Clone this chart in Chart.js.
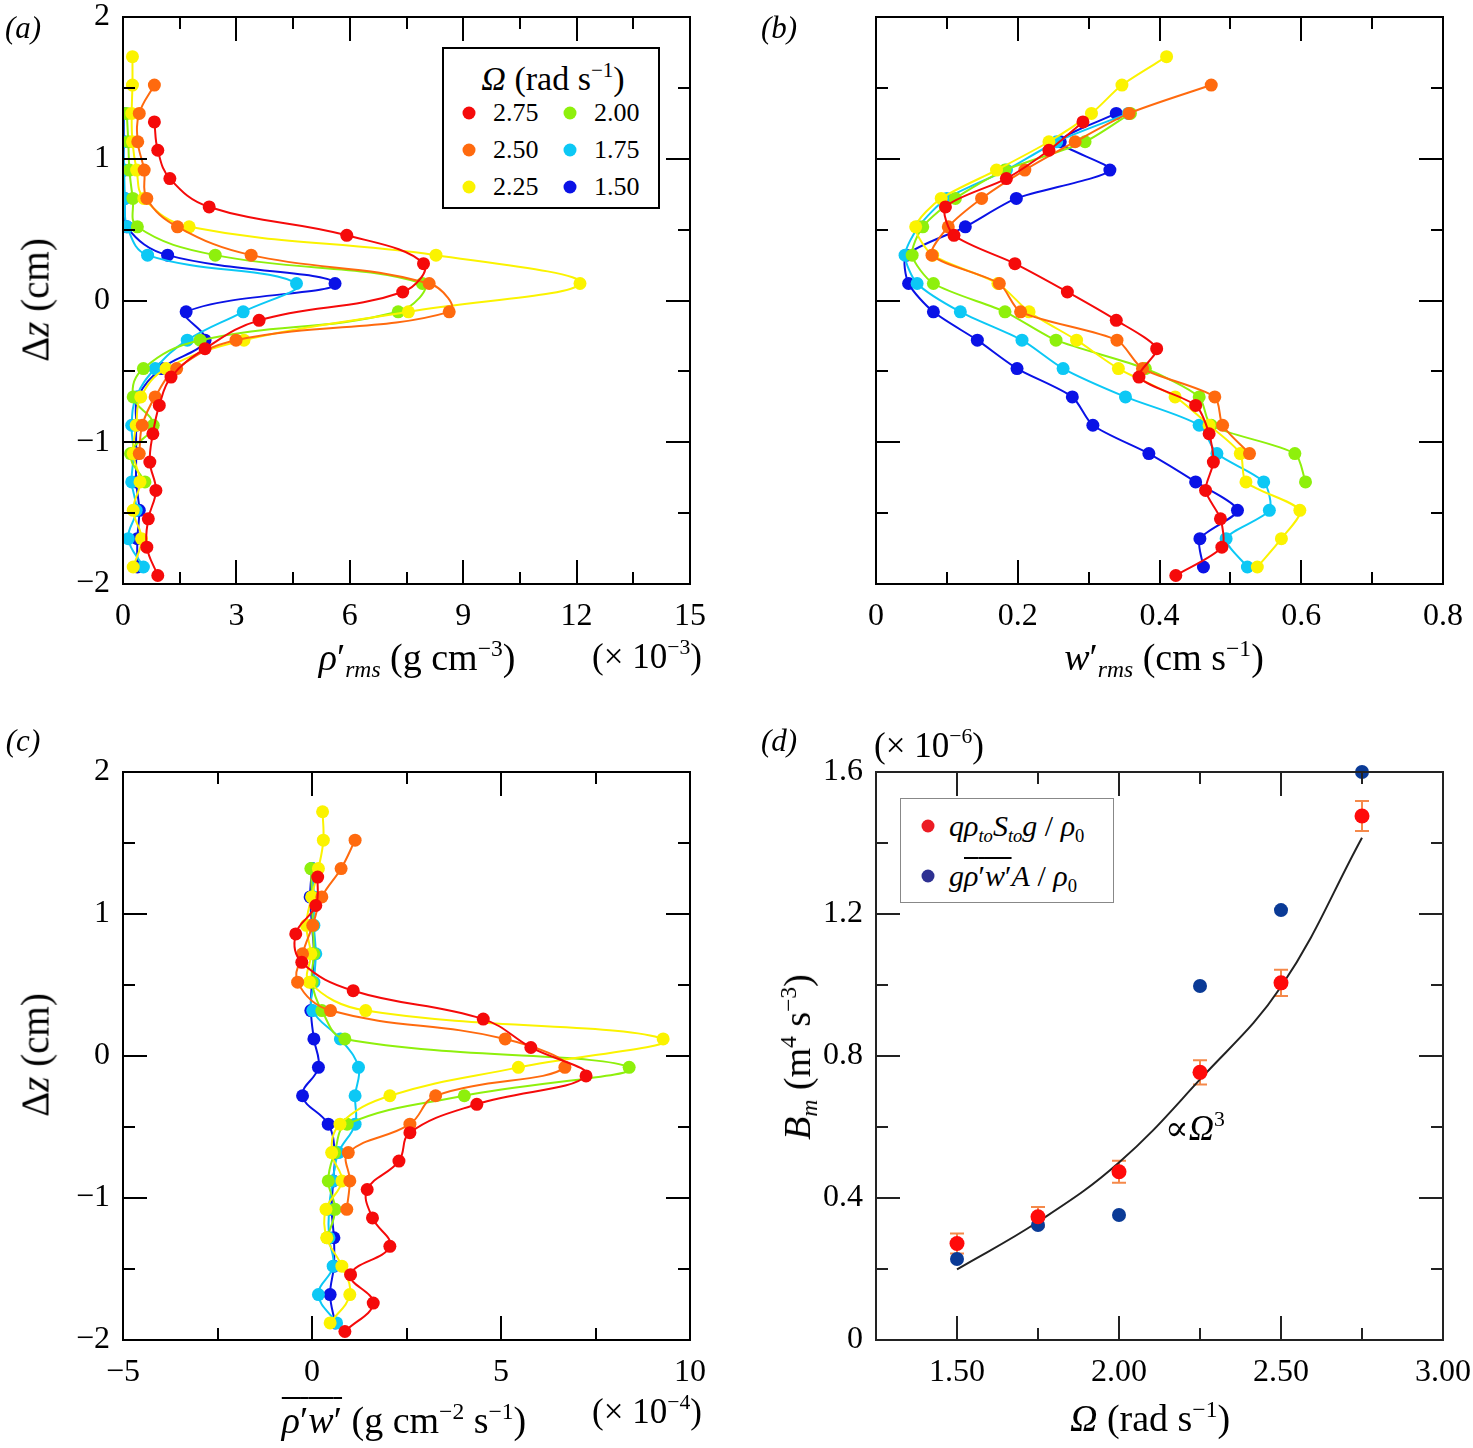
<!DOCTYPE html>
<html>
<head>
<meta charset="utf-8">
<script src="https://cdn.jsdelivr.net/npm/chart.js@4.4.1/dist/chart.umd.min.js"></script>
<style>
    body { margin: 0; background: #fff; width: 1473px; height: 1448px; position: relative; overflow: hidden;
           font-family: "Liberation Serif", "DejaVu Serif", serif; color: #000; }
    canvas { position: absolute; }
    .t { position: absolute; white-space: nowrap; line-height: 1; transform: translate(-50%, -50%); }
    .l { position: absolute; white-space: nowrap; line-height: 1; transform: translateY(-50%); }
    .rot { transform: translate(-50%, -50%) rotate(-90deg); }
    sup { font-size: 0.62em; vertical-align: 0.6em; line-height: 0; }
    sub { font-size: 0.62em; vertical-align: -0.3em; line-height: 0; }
    .ov { text-decoration: overline; text-decoration-thickness: 1.5px; }
    .box { position: absolute; background: #fff; }
    .dot { position: absolute; border-radius: 50%; transform: translate(-50%, -50%); }
</style>
</head>
<body>
<canvas id="chartA" width="736" height="754" style="left:0;top:-30px"></canvas>
<canvas id="chartB" width="770" height="754" style="left:736px;top:-30px"></canvas>
<canvas id="chartC" width="736" height="724" style="left:0;top:724px"></canvas>
<canvas id="chartD" width="770" height="724" style="left:736px;top:724px"></canvas>

<div class="t" style="left:23px;top:27px;font-size:31px"><i>(a)</i></div>
<div class="t" style="left:779px;top:27px;font-size:31px"><i>(b)</i></div>
<div class="t" style="left:23px;top:740px;font-size:31px"><i>(c)</i></div>
<div class="t" style="left:779px;top:740px;font-size:31px"><i>(d)</i></div>

<div class="t rot" style="left:35px;top:300px;font-size:39px">Δ<i>z</i> (cm)</div>
<div class="t rot" style="left:35px;top:1055px;font-size:39px">Δ<i>z</i> (cm)</div>
<div class="t rot" style="left:797px;top:1057px;font-size:38px"><i>B<sub>m</sub></i> (m<sup>4</sup> s<sup>−3</sup>)</div>

<div class="t" style="left:417px;top:657px;font-size:38px"><i>ρ</i>′<sub><i>rms</i></sub> (g cm<sup>−3</sup>)</div>
<div class="t" style="left:647px;top:656px;font-size:35px">(× 10<sup>−3</sup>)</div>
<div class="t" style="left:1164px;top:657px;font-size:38px"><i>w</i>′<sub><i>rms</i></sub> (cm s<sup>−1</sup>)</div>
<div class="t" style="left:404px;top:1420px;font-size:38px"><span class="ov"><i>ρ</i>′<i>w</i>′</span> (g cm<sup>−2</sup> s<sup>−1</sup>)</div>
<div class="t" style="left:647px;top:1411px;font-size:35px">(× 10<sup>−4</sup>)</div>
<div class="t" style="left:1150px;top:1418px;font-size:38px"><i>Ω</i> (rad s<sup>−1</sup>)</div>
<div class="t" style="left:929px;top:745px;font-size:35px">(× 10<sup>−6</sup>)</div>
<div class="l" style="left:1165px;top:1128px;font-size:35px">∝<i>Ω</i><sup>3</sup></div>

<div id="legendA" class="box" style="left:442px;top:47px;width:214px;height:158px;border:2px solid #000"></div>
<div id="legendD" class="box" style="left:900px;top:798px;width:212px;height:103px;border:1.5px solid #888"></div>

<script>
// Niveles Δz (cm) de cada serie
const z275 = [1.26, 1.06, 0.86, 0.66, 0.46, 0.26, 0.06, -0.14, -0.34, -0.54, -0.74, -0.94, -1.14, -1.34, -1.54, -1.74, -1.94];
const z250 = [1.52, 1.32, 1.12, 0.92, 0.72, 0.52, 0.32, 0.12, -0.08, -0.28, -0.48, -0.68, -0.88, -1.08];
const z225 = [1.72, 1.52, 1.32, 1.12, 0.92, 0.72, 0.52, 0.32, 0.12, -0.08, -0.28, -0.48, -0.68, -0.88, -1.08, -1.28, -1.48, -1.68, -1.88];
const z200 = [1.32, 1.12, 0.92, 0.72, 0.52, 0.32, 0.12, -0.08, -0.28, -0.48, -0.68, -0.88, -1.08, -1.28];
const z175 = [1.32, 1.12, 0.92, 0.72, 0.52, 0.32, 0.12, -0.08, -0.28, -0.48, -0.68, -0.88, -1.08, -1.28, -1.48, -1.68, -1.88];
const z150 = [1.32, 1.12, 0.92, 0.72, 0.52, 0.32, 0.12, -0.08, -0.28, -0.48, -0.68, -0.88, -1.08, -1.28, -1.48, -1.68, -1.88];

// (a) ρ'rms (× 10^-3 g cm^-3)
const rho275 = [0.83, 0.92, 1.24, 2.28, 5.92, 7.95, 7.40, 3.60, 2.17, 1.27, 0.96, 0.79, 0.71, 0.87, 0.67, 0.63, 0.92];
const rho250 = [0.83, 0.43, 0.39, 0.56, 0.63, 1.44, 3.39, 8.10, 8.63, 2.99, 1.42, 0.85, 0.51, 0.43];
const rho225 = [0.25, 0.25, 0.23, 0.25, 0.36, 0.55, 1.75, 8.28, 12.09, 7.55, 3.20, 1.14, 0.47, 0.35, 0.27, 0.45, 0.27, 0.49, 0.27];
const rho200 = [0.10, 0.14, 0.17, 0.26, 0.38, 2.44, 7.92, 7.28, 2.04, 0.54, 0.27, 0.80, 0.20, 0.58];
const rho175 = [0.01, 0.01, 0.03, 0.05, 0.11, 0.65, 4.59, 3.18, 1.70, 0.85, 0.35, 0.23, 0.28, 0.23, 0.35, 0.14, 0.54];
const rho150 = [0.02, 0.02, 0.01, 0.04, 0.10, 1.18, 5.61, 1.67, 2.17, 1.02, 0.40, 0.35, 0.35, 0.35, 0.43, 0.38, 0.38];

// (b) w'rms (cm s^-1)
const w275 = [0.292, 0.244, 0.184, 0.098, 0.110, 0.196, 0.270, 0.339, 0.396, 0.371, 0.451, 0.470, 0.476, 0.465, 0.486, 0.488, 0.423];
const w250 = [0.473, 0.357, 0.281, 0.210, 0.149, 0.102, 0.079, 0.174, 0.204, 0.340, 0.376, 0.478, 0.489, 0.527];
const w225 = [0.410, 0.347, 0.304, 0.244, 0.170, 0.092, 0.056, 0.080, 0.172, 0.216, 0.283, 0.342, 0.422, 0.470, 0.514, 0.522, 0.598, 0.572, 0.538];
const w200 = [0.359, 0.295, 0.182, 0.112, 0.066, 0.051, 0.081, 0.182, 0.254, 0.380, 0.456, 0.473, 0.591, 0.606];
const w175 = [0.356, 0.255, 0.184, 0.100, 0.060, 0.041, 0.058, 0.119, 0.206, 0.264, 0.352, 0.456, 0.481, 0.547, 0.555, 0.494, 0.524];
const w150 = [0.339, 0.260, 0.330, 0.198, 0.126, 0.043, 0.046, 0.081, 0.143, 0.199, 0.277, 0.306, 0.385, 0.451, 0.510, 0.457, 0.462];

// (c) flujo ρ'w' (× 10^-4 g cm^-2 s^-1)
const flux275 = [0.15, 0.10, -0.43, -0.27, 1.09, 4.53, 5.79, 7.25, 4.36, 2.59, 2.30, 1.46, 1.60, 2.06, 1.02, 1.62, 0.87];
const flux250 = [1.14, 0.77, 0.26, 0.02, -0.25, -0.38, 0.49, 5.11, 6.69, 3.27, 2.59, 0.96, 1.00, 0.92];
const flux225 = [0.28, 0.30, 0.17, -0.01, -0.15, -0.03, -0.07, 1.42, 9.29, 5.46, 2.06, 0.74, 0.52, 0.79, 0.37, 0.39, 0.79, 1.00, 0.48];
const flux200 = [-0.03, 0.00, 0.02, 0.05, 0.00, 0.26, 0.87, 8.39, 4.03, 0.93, 0.60, 0.43, 0.61, 0.40];
const flux175 = [0.00, 0.05, 0.05, 0.10, 0.05, 0.02, 0.75, 1.23, 1.14, 1.14, 0.70, 0.55, 0.45, 0.45, 0.56, 0.17, 0.65];
const flux150 = [0.00, -0.05, 0.00, 0.05, 0.00, -0.03, 0.05, 0.17, -0.25, 0.43, 0.60, 0.56, 0.52, 0.58, 0.58, 0.48, 0.61];

// (d) B_m (× 10^-6 m^4 s^-3)
const omega = [1.50, 1.75, 2.00, 2.25, 2.50, 2.75];
const bmTurnover = [0.272, 0.347, 0.474, 0.754, 1.006, 1.476];
const bmTurnoverErr = [0.028, 0.028, 0.031, 0.034, 0.037, 0.042];
const bmFlux = [0.228, 0.324, 0.352, 0.997, 1.211, 1.600];
const fitOmega = [1.50, 1.75, 2.00, 2.25, 2.50, 2.75];
const fitBm = [0.199, 0.333, 0.500, 0.734, 0.995, 1.415];

const omegaLabels = ['2.75', '2.50', '2.25', '2.00', '1.75', '1.50'];
const seriesColors = ['#f50a0a', '#ff6a0e', '#fbf300', '#8ef00c', '#0cc8f5', '#0a12e6'];
const zSets = [z275, z250, z225, z200, z175, z150];

const legendDLabels = [
    '<i>qρ<sub>to</sub>S<sub>to</sub>g</i> / <i>ρ</i><sub>0</sub>',
    '<i>g</i><span class="ov"><i>ρ</i>′<i>w</i>′</span><i>A</i> / <i>ρ</i><sub>0</sub>'
];
const legendDColors = ['#ec1c24', '#2e3192'];

const FONT = '"Liberation Serif", "DejaVu Serif", serif';
const fmtMinus = (v, d = 0) => (v < 0 ? '\u2212' : '') + Math.abs(v).toFixed(d);

// Marco con marcas hacia dentro en los cuatro lados
const frameTicks = {
    id: 'frameTicks',
    afterDraw(chart, args, opts) {
        const { ctx, chartArea: a, scales: { x, y } } = chart;
        ctx.save();
        ctx.strokeStyle = opts.color || '#000';
        ctx.lineWidth = 2;
        ctx.beginPath();
        const seg = (x1, y1, x2, y2) => { ctx.moveTo(x1, y1); ctx.lineTo(x2, y2); };
        const xt = (vals, len) => vals.forEach(v => {
            const p = Math.round(x.getPixelForValue(v));
            seg(p, a.bottom, p, a.bottom - len);
            seg(p, a.top, p, a.top + len);
        });
        const yt = (vals, len) => vals.forEach(v => {
            const p = Math.round(y.getPixelForValue(v));
            seg(a.left, p, a.left + len, p);
            seg(a.right, p, a.right - len, p);
        });
        xt(opts.xMajor, 24); xt(opts.xMinor, 12);
        yt(opts.yMajor, 24); yt(opts.yMinor, 12);
        ctx.stroke();
        ctx.strokeRect(a.left, a.top, a.right - a.left, a.bottom - a.top);
        ctx.restore();
    }
};

// Barras de error para el panel (d)
const errorBars = {
    id: 'errorBars',
    beforeDatasetsDraw(chart) {
        const { ctx, scales: { x, y } } = chart;
        chart.data.datasets.forEach(ds => {
            if (!ds.errors) return;
            ctx.save();
            ctx.strokeStyle = '#f5894a';
            ctx.lineWidth = 2;
            ds.data.forEach((pt, i) => {
                const px = x.getPixelForValue(pt.x);
                const top = y.getPixelForValue(pt.y + ds.errors[i]);
                const bot = y.getPixelForValue(pt.y - ds.errors[i]);
                ctx.beginPath();
                ctx.moveTo(px, top); ctx.lineTo(px, bot);
                ctx.moveTo(px - 7, top); ctx.lineTo(px + 7, top);
                ctx.moveTo(px - 7, bot); ctx.lineTo(px + 7, bot);
                ctx.stroke();
            });
            ctx.restore();
        });
    }
};

const toPoints = (xs, ys) => xs.map((v, i) => ({ x: v, y: ys[i] }));

const profileDatasets = (xSets, tension) => xSets.map((xs, k) => ({
    label: omegaLabels[k],
    data: toPoints(xs, zSets[k]),
    showLine: true,
    borderColor: seriesColors[k],
    backgroundColor: seriesColors[k],
    borderWidth: 2,
    pointRadius: 6.5,
    pointHoverRadius: 6.5,
    pointBorderWidth: 0,
    tension: tension
}));

const makeScale = (min, max, ticks, fmt, size, show = true) => ({
    type: 'linear',
    min: min,
    max: max,
    grid: { display: false, drawTicks: false },
    border: { display: false },
    afterBuildTicks: s => { s.ticks = ticks.map(v => ({ value: v })); },
    afterFit: s => { if (s.isHorizontal()) s.height = size; else s.width = size; },
    ticks: {
        display: show,
        autoSkip: false,
        maxRotation: 0,
        padding: 13,
        color: '#000',
        font: { family: FONT, size: 32 },
        callback: v => fmt(v)
    }
});

const makeChart = (id, datasets, xScale, yScale, padding, frame, extraPlugins = []) => new Chart(document.getElementById(id), {
    type: 'scatter',
    data: { datasets: datasets },
    options: {
        responsive: false,
        animation: false,
        devicePixelRatio: 1,
        layout: { padding: padding },
        scales: { x: xScale, y: yScale },
        plugins: {
            legend: { display: false },
            tooltip: { enabled: false },
            frameTicks: frame
        }
    },
    plugins: [frameTicks, ...extraPlugins]
});

const zTicks = [-2, -1, 0, 1, 2];
const zMinor = [-1.5, -0.5, 0.5, 1.5];

// Panel (a)
makeChart('chartA',
    profileDatasets([rho275, rho250, rho225, rho200, rho175, rho150], 0.4),
    makeScale(0, 15, [0, 3, 6, 9, 12, 15], v => fmtMinus(v), 140),
    makeScale(-2, 2, zTicks, v => fmtMinus(v), 123),
    { left: 0, top: 47, right: 46, bottom: 0 },
    { xMajor: [3, 6, 9, 12], xMinor: [1.5, 4.5, 7.5, 10.5, 13.5], yMajor: [-1, 0, 1], yMinor: zMinor });

// Panel (b)
makeChart('chartB',
    profileDatasets([w275, w250, w225, w200, w175, w150], 0.25),
    makeScale(0, 0.8, [0, 0.2, 0.4, 0.6, 0.8], v => v === 0 ? '0' : v.toFixed(1), 140),
    makeScale(-2, 2, zTicks, v => '', 140, false),
    { left: 0, top: 47, right: 63, bottom: 0 },
    { xMajor: [0.2, 0.4, 0.6], xMinor: [0.1, 0.3, 0.5, 0.7], yMajor: [-1, 0, 1], yMinor: zMinor });

// Panel (c)
makeChart('chartC',
    profileDatasets([flux275, flux250, flux225, flux200, flux175, flux150], 0.4),
    makeScale(-5, 10, [-5, 0, 5, 10], v => fmtMinus(v), 108),
    makeScale(-2, 2, zTicks, v => fmtMinus(v), 123),
    { left: 0, top: 48, right: 46, bottom: 0 },
    { xMajor: [0, 5], xMinor: [-2.5, 2.5, 7.5], yMajor: [-1, 0, 1], yMinor: zMinor });

// Panel (d)
makeChart('chartD', [
    {
        label: 'turnover',
        data: toPoints(omega, bmTurnover),
        errors: bmTurnoverErr,
        backgroundColor: '#ff0a0a',
        pointRadius: 7.5,
        pointBorderWidth: 0
    },
    {
        label: 'flux',
        data: toPoints(omega, bmFlux),
        backgroundColor: '#0a3a96',
        pointRadius: 7,
        pointBorderWidth: 0,
        clip: false
    },
    {
        label: 'fit',
        data: toPoints(fitOmega, fitBm),
        showLine: true,
        borderColor: '#222',
        borderWidth: 2,
        pointRadius: 0,
        tension: 0.4
    }
],
    makeScale(1.25, 3.0, [1.5, 2.0, 2.5, 3.0], v => v.toFixed(2), 108),
    makeScale(0, 1.6, [0, 0.4, 0.8, 1.2, 1.6], v => v === 0 ? '0' : v.toFixed(1), 140),
    { left: 0, top: 48, right: 63, bottom: 0 },
    { color: '#222', xMajor: [1.5, 2.0, 2.5], xMinor: [1.75, 2.25, 2.75], yMajor: [0.4, 0.8, 1.2], yMinor: [0.2, 0.6, 1.0, 1.4] },
    [errorBars]);

// Leyenda (a)
const legendA = document.getElementById('legendA');
legendA.innerHTML = '<div class="t" style="left:109px;top:30px;font-size:34px"><i>Ω</i> (rad s<sup>−1</sup>)</div>';
omegaLabels.forEach((lab, k) => {
    const col = Math.floor(k / 3);
    const row = k % 3;
    const cy = 64 + row * 37;
    const dx = 25 + col * 101;
    legendA.innerHTML += `<div class="dot" style="left:${dx}px;top:${cy}px;width:13px;height:13px;background:${seriesColors[k]}"></div>` +
        `<div class="l" style="left:${dx + 24}px;top:${cy}px;font-size:26px">${lab}</div>`;
});

// Leyenda (d)
const legendD = document.getElementById('legendD');
legendDLabels.forEach((lab, k) => {
    const cy = 27 + k * 50;
    legendD.innerHTML += `<div class="dot" style="left:27px;top:${cy}px;width:13px;height:13px;background:${legendDColors[k]}"></div>` +
        `<div class="l" style="left:48px;top:${cy}px;font-size:30px">${lab}</div>`;
});
</script>
</body>
</html>
